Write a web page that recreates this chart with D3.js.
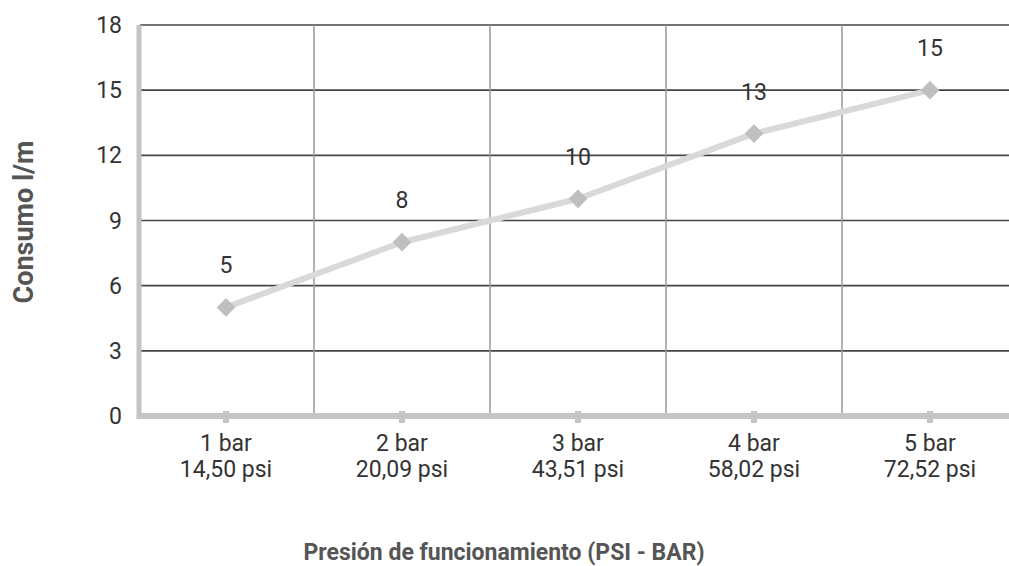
<!DOCTYPE html>
<html>
<head>
<meta charset="utf-8">
<script src="https://cdn.jsdelivr.net/npm/d3@7"></script>
<style>
  body { margin: 0; background: #fff; }
  text { font-family: Roboto, sans-serif; }
</style>
</head>
<body>
<div id="chart"></div>
<script>
const width = 1009;
const height = 566;

const barLabels = ['1 bar', '2 bar', '3 bar', '4 bar', '5 bar'];
const psiLabels = ['14,50 psi', '20,09 psi', '43,51 psi', '58,02 psi', '72,52 psi'];
const consumo = [5, 8, 10, 13, 15];
const yTicks = [0, 3, 6, 9, 12, 15, 18];

const data = barLabels.map((b, i) => ({ bar: b, psi: psiLabels[i], v: consumo[i] }));

const x = d3.scaleBand().domain(barLabels).range([138, 1018]);
const y = d3.scaleLinear().domain([0, 18]).range([416, 25]);
const cx = d => x(d) + x.bandwidth() / 2;

const svg = d3.select('#chart').append('svg')
  .attr('width', width).attr('height', height);

// horizontal grid
svg.append('g')
  .selectAll('line')
  .data(yTicks.filter(d => d > 0))
  .join('line')
  .attr('x1', 140).attr('x2', width)
  .attr('y1', d => y(d)).attr('y2', d => y(d))
  .attr('stroke', '#444').attr('stroke-width', 1.6);

// vertical grid between categories
svg.append('g')
  .selectAll('line')
  .data(barLabels.slice(1))
  .join('line')
  .attr('x1', d => x(d)).attr('x2', d => x(d))
  .attr('y1', y(18)).attr('y2', y(0))
  .attr('stroke', '#999').attr('stroke-width', 1.5);

// y axis bar
svg.append('line')
  .attr('x1', 139).attr('x2', 139)
  .attr('y1', y(18)).attr('y2', y(0) + 3)
  .attr('stroke', '#c4c4c4').attr('stroke-width', 5);

// x axis bar
svg.append('line')
  .attr('x1', 137).attr('x2', width)
  .attr('y1', y(0)).attr('y2', y(0))
  .attr('stroke', '#c4c4c4').attr('stroke-width', 6);

// x tick marks
svg.append('g')
  .selectAll('rect')
  .data(barLabels)
  .join('rect')
  .attr('x', d => cx(d) - 3)
  .attr('y', y(0) - 5)
  .attr('width', 6).attr('height', 12)
  .attr('fill', '#c4c4c4');

// y tick labels
svg.append('g')
  .selectAll('text')
  .data(yTicks)
  .join('text')
  .attr('x', 122)
  .attr('y', d => y(d))
  .attr('dy', '0.35em')
  .attr('text-anchor', 'end')
  .attr('font-size', 23)
  .attr('fill', '#333')
  .text(d => d);

// x tick labels (two lines)
const xl = svg.append('g')
  .selectAll('text')
  .data(data)
  .join('text')
  .attr('text-anchor', 'middle')
  .attr('font-size', 23)
  .attr('fill', '#333');
xl.append('tspan')
  .attr('x', d => cx(d.bar))
  .attr('y', 451)
  .text(d => d.bar);
xl.append('tspan')
  .attr('x', d => cx(d.bar))
  .attr('y', 477)
  .text(d => d.psi);

// line
const line = d3.line()
  .x(d => cx(d.bar))
  .y(d => y(d.v));

svg.append('path')
  .datum(data)
  .attr('d', line)
  .attr('fill', 'none')
  .attr('stroke', '#d9d9d9')
  .attr('stroke-width', 6)
  .attr('stroke-linejoin', 'round');

// diamond markers
svg.append('g')
  .selectAll('path')
  .data(data)
  .join('path')
  .attr('d', d3.symbol(d3.symbolSquare, 175))
  .attr('transform', d => `translate(${cx(d.bar)},${y(d.v)}) rotate(45)`)
  .attr('fill', '#bfbfbf');

// value labels
svg.append('g')
  .selectAll('text')
  .data(data)
  .join('text')
  .attr('x', d => cx(d.bar))
  .attr('y', d => y(d.v) - 34)
  .attr('text-anchor', 'middle')
  .attr('font-size', 23)
  .attr('fill', '#333')
  .text(d => d.v);

// axis titles
svg.append('text')
  .attr('transform', 'translate(33,222) rotate(-90)')
  .attr('text-anchor', 'middle')
  .attr('font-size', 27)
  .attr('font-weight', 'bold')
  .attr('fill', '#555')
  .text('Consumo l/m');

svg.append('text')
  .attr('x', 504)
  .attr('y', 560)
  .attr('text-anchor', 'middle')
  .attr('font-size', 23)
  .attr('font-weight', 'bold')
  .attr('fill', '#555')
  .text('Presión de funcionamiento (PSI - BAR)');
</script>
</body>
</html>
